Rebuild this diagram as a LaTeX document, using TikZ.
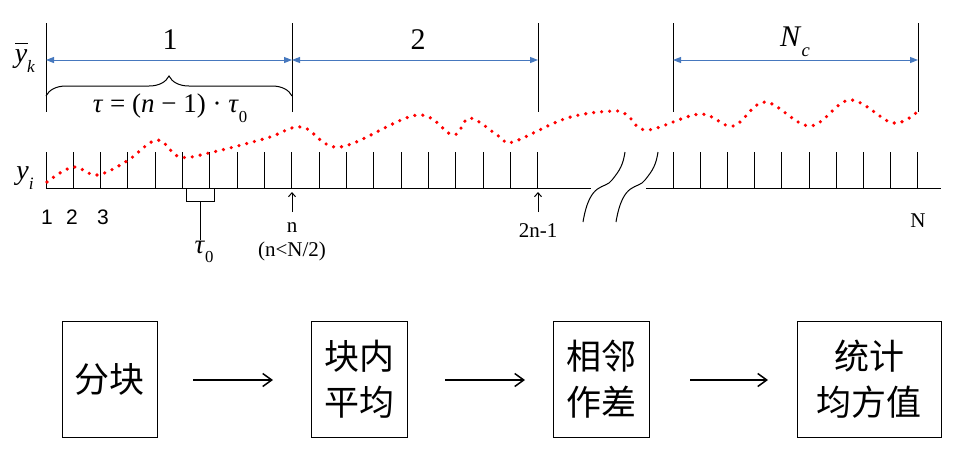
\documentclass[tikz,border=0pt]{standalone}
\usepackage{fontspec}
\setmainfont{Liberation Serif}
\newfontfamily\cjk{Noto Sans CJK SC}
\newfontfamily\arial{Liberation Sans}
\usetikzlibrary{arrows.meta,decorations.pathreplacing}
\newcommand{\iv}[1]{\textit{#1}}
\newcommand{\sbs}[1]{\raisebox{-0.35em}{\fontsize{0.62em}{1em}\selectfont #1}}
\begin{document}
\begin{tikzpicture}[x=1pt,y=-1pt,
 tick/.style={line width=1pt},
 blue arr/.style={draw={rgb,255:red,70;green,120;blue,190},line width=1pt,{Triangle[length=8pt,width=6pt]}-{Triangle[length=8pt,width=6pt]}},
 box/.style={draw,line width=1pt,minimum width=95pt,minimum height=116pt,font=\cjk\fontsize{35}{46}\selectfont,align=center,inner sep=0pt},
 flow/.style={line width=1.5pt,-{Straight Barb[length=9pt,width=13pt]}},
 small/.style={font=\fontsize{21}{23}\selectfont}]
\useasboundingbox (0,0) rectangle (973,464);
% baseline and ticks
\draw[tick] (46,188) -- (591,188);
\draw[tick] (646,188) -- (941,188);
\foreach \i in {0,...,18} \draw[tick] ({46+27.33*\i},152) -- ({46+27.33*\i},188);
\foreach \i in {0,...,9} \draw[tick] ({673+27.2*\i},152) -- ({673+27.2*\i},188);
% breaks
\draw[line width=1pt] (583,222) .. controls (590,180) and (605,190) .. (612,180) .. controls (620,170) and (623,165) .. (625,152);
\draw[line width=1pt] (616,222) .. controls (623,180) and (638,190) .. (645,180) .. controls (653,170) and (656,165) .. (658,152);
% top lines
\foreach \x in {292,538,673,918} \draw[tick] (\x,23) -- (\x,112);
\draw[tick] (46,23) -- (46,112);
\draw[blue arr] (46,60) -- (292,60);
\draw[blue arr] (292,60) -- (538,60);
\draw[blue arr] (673,60) -- (918,60);
\node (l1) at (170,40) {\fontsize{30}{32}\selectfont 1};
\node (l2) at (418,40) {\fontsize{30}{32}\selectfont 2};
\node (lN) at (795,42) {\fontsize{30}{32}\selectfont \iv{N}\sbs{\iv{c}}};
\node (yk) at (25,61) {\fontsize{28}{30}\selectfont \iv{y}\sbs{\iv{k}}};
\draw[line width=1pt] (15,43) -- (28,43);
\node (yi) at (25,178) {\fontsize{28}{30}\selectfont \iv{y}\sbs{\iv{i}}};
\draw[tick] (292,112) -- (292,96);
\draw[line width=1pt,decorate,decoration={brace,amplitude=20pt,aspect=0.5}] (46,96) -- (292,96);
\node (tau) at (170,108) {\fontsize{27}{29}\selectfont \iv{τ} = (\iv{n} − 1) · \iv{τ}\sbs{0}};
% red curve
\draw[red,line width=3.6pt,line cap=round,dash pattern=on 0pt off 8pt] plot[smooth,tension=0.6] coordinates {(47,182) (73,167) (97,175) (127,161) (157,140) (180,157) (213,152) (267,138) (302,127) (340,147) (417,115) (453,135) (470,118) (500,137) (513,142) (567,118) (613,111) (627,115) (647,130) (700,114) (733,126) (765,102) (810,126) (850,100) (893,123) (918,111)};
% tau0 bracket
\draw[tick] (186,188) -- (186,201) -- (214,201) -- (214,188);
\coordinate (tb) at (200,201);
\node (t0) at (204,252) {\fontsize{27}{29}\selectfont \iv{τ}\sbs{0}};
\draw[tick] (tb) -- (200,240);
% labels
\node[font=\arial\fontsize{21}{22}\selectfont] (n1) at (47,217) {1};
\node[font=\arial\fontsize{21}{22}\selectfont] (n2) at (72,217) {2};
\node[font=\arial\fontsize{21}{22}\selectfont] (n3) at (103,217) {3};
\node[small] (nn) at (292,228) {n};
\node[small] (nlt) at (292,251) {(n<N/2)};
\node[small] (n2n) at (538,231) {2n-1};
\node[small] (nN) at (918,221) {N};
\draw[line width=1pt,-{Straight Barb[length=4pt,width=7pt]}] (292,212) -- (292,192);
\draw[line width=1pt,-{Straight Barb[length=4pt,width=7pt]}] (538,212) -- (538,192);
% flow boxes
\node[box] (b1) at (109.5,379) {分块};
\node[box,minimum width=96pt] (b2) at (359,379) {块内\\平均};
\node[box,minimum width=96pt] (b3) at (601,379) {相邻\\作差};
\node[box,minimum width=144pt] (b4) at (869,379) {统计\\均方值};
\draw[flow] (193,380) -- (273,380);
\draw[flow] (445,380) -- (525,380);
\draw[flow] (690,380) -- (768,380);
\end{tikzpicture}
\end{document}
